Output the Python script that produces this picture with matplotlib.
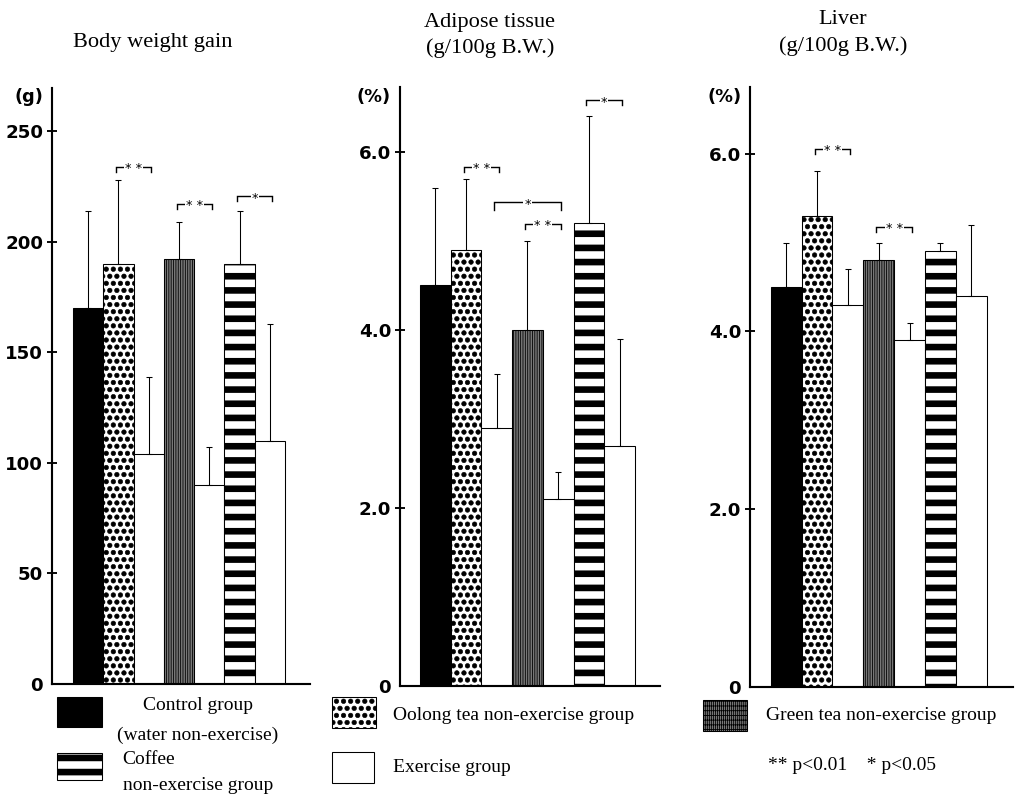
"""Body weight gain, adipose tissue and liver weight by drink / exercise group."""

import matplotlib

matplotlib.use("Agg")
import matplotlib.hatch as mhatch
import matplotlib.pyplot as plt
from matplotlib.patches import Rectangle

W, H, DPI = 1016, 798, 85

# bigger filled dots for the oolong pattern
mhatch.SmallFilledCircles.size = 0.32

# bar order inside every panel
bar_kinds = ["control", "oolong", "exercise", "green", "exercise", "coffee", "exercise"]

bw_mean = [170, 190, 104, 192, 90, 190, 110]
bw_err = [44, 38, 35, 17, 17, 24, 53]
bw_sig = [(1, 2, 234, "* *"), (3, 4, 217, "* *"), (5, 6, 220.5, "*")]

fat_mean = [4.5, 4.9, 2.9, 4.0, 2.1, 5.2, 2.7]
fat_err = [1.1, 0.8, 0.6, 1.0, 0.3, 1.2, 1.2]
fat_sig = [(1, 2, 5.83, "* *"), (2, 4, 5.44, "*"), (3, 4, 5.19, "* *"), (5, 6, 6.58, "*")]

liver_mean = [4.5, 5.3, 4.3, 4.8, 3.9, 4.9, 4.4]
liver_err = [0.5, 0.5, 0.4, 0.2, 0.2, 0.1, 0.8]
liver_sig = [(1, 2, 6.05, "* *"), (3, 4, 5.18, "* *")]

bw_ticks = [0, 50, 100, 150, 200, 250]
bw_ticklabels = ["0", "50", "100", "150", "200", "250"]
pct_ticks = [0, 2.0, 4.0, 6.0]
pct_ticklabels = ["0", "2.0", "4.0", "6.0"]

STYLES = {
    "control": dict(facecolor="black", hatch=None, hlw=1.0),
    "oolong": dict(facecolor="white", hatch="..", hlw=0.5),
    "exercise": dict(facecolor="white", hatch=None, hlw=1.0),
    "green": dict(facecolor="#787878", hatch="||||||", hlw=0.7),
    "coffee": dict(facecolor="white", hatch="-", hlw=5.6),
}
GREEN_SWATCH_HATCH = "||||+++"

SERIF = "Liberation Serif"
SANS = "DejaVu Sans"


def set_hlw(patch, lw):
    if hasattr(patch, "set_hatch_linewidth"):
        patch.set_hatch_linewidth(lw)
    else:
        patch._hatch_linewidth = lw


def fx(px):
    return px / W


def fy(py):
    return 1 - py / H


def sig_bracket(ax, i, j, y, label, drop_px=5):
    y0, y1 = ax.get_ylim()
    dy = (y1 - y0) * drop_px / ax.bbox.height
    a, b = i - 0.08, j + 0.08
    ax.plot([a, a, b, b], [y - dy, y, y, y - dy], color="black", lw=1.2,
            solid_joinstyle="miter", zorder=4)
    ax.text((a + b) / 2, y - dy * 0.35, label, ha="center", va="center",
            fontsize=11, family=SANS, zorder=5,
            bbox=dict(fc="white", ec="none", pad=0.8))


def panel(fig, rect_px, xlim, ylim, means, errs, sigs, ticks, ticklabels):
    left, top, right, bottom = rect_px
    ax = fig.add_axes([fx(left), fy(bottom), (right - left) / W, (bottom - top) / H])
    xs = list(range(len(means)))
    for x, m, kind in zip(xs, means, bar_kinds):
        st = STYLES[kind]
        bar = ax.bar(x, m, width=1.0, facecolor=st["facecolor"], edgecolor="black",
                     linewidth=0.9, hatch=st["hatch"], zorder=2)[0]
        set_hlw(bar, st["hlw"])
    ax.errorbar(xs, means, yerr=[[0] * len(errs), errs], fmt="none", ecolor="black",
                elinewidth=0.9, capsize=2.6, capthick=0.9, zorder=3)
    ax.set_xlim(*xlim)
    ax.set_ylim(*ylim)
    ax.set_xticks([])
    ax.set_yticks(ticks)
    ax.set_yticklabels(ticklabels, fontweight="bold", family=SANS)
    ax.tick_params(axis="y", direction="inout", length=9, width=1.6,
                   labelsize=15.5, pad=3)
    ax.yaxis.get_major_ticks()[0].tick1line.set_visible(False)
    for s in ("top", "right"):
        ax.spines[s].set_visible(False)
    for s in ("left", "bottom"):
        ax.spines[s].set_linewidth(1.8)
    for i, j, y, lab in sigs:
        sig_bracket(ax, i, j, y, lab, drop_px=8 if j - i > 1 else 5)
    return ax


fig = plt.figure(figsize=(W / DPI, H / DPI), dpi=DPI)

panel(fig, (52, 88, 310, 684), (-1.193, 7.325), (0, 269.5),
      bw_mean, bw_err, bw_sig, bw_ticks, bw_ticklabels)
panel(fig, (400, 87, 660, 686), (-1.151, 7.314), (0, 6.73),
      fat_mean, fat_err, fat_sig, pct_ticks, pct_ticklabels)
panel(fig, (750, 87, 1013, 687), (-1.17, 7.35), (0, 6.75),
      liver_mean, liver_err, liver_sig, pct_ticks, pct_ticklabels)

# unit labels
for x, lab in [(29, "(g)"), (374, "(%)"), (725, "(%)")]:
    fig.text(fx(x), fy(97), lab, ha="center", va="center", fontsize=15,
             fontweight="bold", family=SANS)

# panel titles
title_kw = dict(ha="center", va="center", fontsize=19, family=SERIF)
fig.text(fx(153), fy(42), "Body weight gain", **title_kw)
fig.text(fx(490), fy(23), "Adipose tissue", **title_kw)
fig.text(fx(490), fy(48), "(g/100g B.W.)", **title_kw)
fig.text(fx(843), fy(19), "Liver", **title_kw)
fig.text(fx(843), fy(46), "(g/100g B.W.)", **title_kw)

# legend swatches and labels
legend_items = [
    ("control", (57, 697, 102, 727)),
    ("coffee", (57, 753, 102, 780)),
    ("oolong", (332, 697, 376, 728)),
    ("exercise", (332, 752, 374, 783)),
    ("green", (703, 700, 747, 731)),
]
for kind, (x0, y0, x1, y1) in legend_items:
    st = STYLES[kind]
    hatch = GREEN_SWATCH_HATCH if kind == "green" else st["hatch"]
    r = Rectangle((fx(x0), fy(y1)), (x1 - x0) / W, (y1 - y0) / H,
                  transform=fig.transFigure, facecolor=st["facecolor"],
                  edgecolor="black", linewidth=0.9, hatch=hatch)
    set_hlw(r, st["hlw"])
    fig.add_artist(r)

leg_kw = dict(va="center", fontsize=16.5, family=SERIF)
fig.text(fx(198), fy(706), "Control group", ha="center", **leg_kw)
fig.text(fx(198), fy(735), "(water non-exercise)", ha="center", **leg_kw)
fig.text(fx(122), fy(760), "Coffee", ha="left", **leg_kw)
fig.text(fx(123), fy(786), "non-exercise group", ha="left", **leg_kw)
fig.text(fx(393), fy(715), "Oolong tea non-exercise group", ha="left", **leg_kw)
fig.text(fx(393), fy(767), "Exercise group", ha="left", **leg_kw)
fig.text(fx(766), fy(716), "Green tea non-exercise group", ha="left", **leg_kw)
fig.text(fx(768), fy(766), "** p<0.01    * p<0.05", ha="left", **leg_kw)

fig.savefig("out.png", dpi=DPI)
